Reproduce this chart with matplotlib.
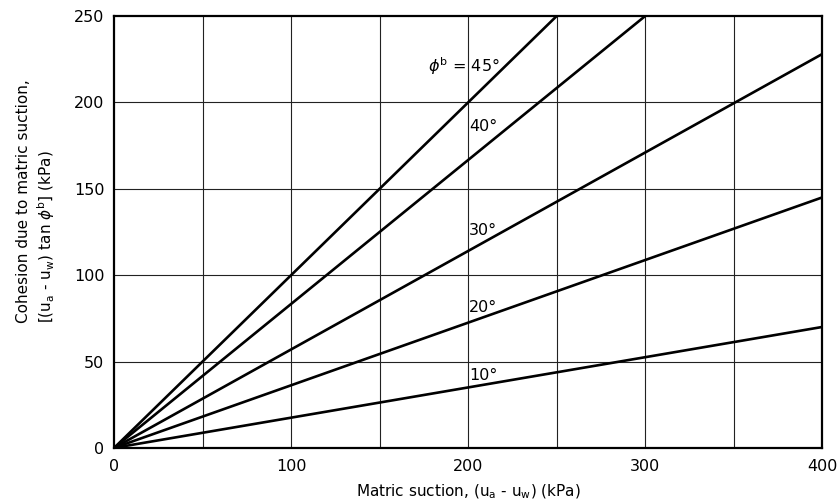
import matplotlib
matplotlib.use("Agg")
import matplotlib.pyplot as plt

plt.rcParams['font.family'] = ['DejaVu Sans']
plt.rcParams['mathtext.fontset'] = 'dejavusans'

# Data: each line runs from origin to an end point
angles = ["10°", "20°", "30°", "40°", "45°"]
end_x = [400, 400, 400, 300, 250]
end_y = [70, 145, 228, 250, 250]
label_text = ["10°", "20°", "30°", "40°"]
label_x = [200.5, 200.5, 200.5, 200.5]
label_y = [42, 81, 126, 186]
top_label = r"$\phi^{\mathrm{b}}$ = 45°"
top_label_x = 218
top_label_y = 221

x_ticks = [0, 100, 200, 300, 400]
y_ticks = [0, 50, 100, 150, 200, 250]
grid_x = [50, 100, 150, 200, 250, 300, 350]
grid_y = [50, 100, 150, 200]

fig = plt.figure(figsize=(8.39, 5.01), dpi=100)
ax = fig.add_axes([0.136, 0.106, 0.844, 0.862])
ax.set_xlim(0, 400)
ax.set_ylim(0, 250)

for gx in grid_x:
    ax.axvline(gx, color='#222222', lw=0.8, zorder=1)
for gy in grid_y:
    ax.axhline(gy, color='#222222', lw=0.8, zorder=1)

for ex, ey in zip(end_x, end_y):
    ax.plot([0, ex], [0, ey], color='black', lw=1.9, zorder=3, solid_capstyle='butt')

for t, lx, ly in zip(label_text, label_x, label_y):
    ax.text(lx, ly, t, fontsize=11.5, ha='left', va='center', zorder=4)
ax.text(top_label_x, top_label_y, top_label, fontsize=11.5, ha='right', va='center', zorder=4)

ax.set_xticks(x_ticks)
ax.set_yticks(y_ticks)
ax.tick_params(axis='x', length=0, labelsize=11.5, pad=8)
ax.tick_params(axis='y', length=0, labelsize=11.5, pad=7)
for s in ax.spines.values():
    s.set_linewidth(1.6)

ax.set_xlabel(r"Matric suction, (u$_\mathrm{a}$ - u$_\mathrm{w}$) (kPa)", fontsize=11, labelpad=6)
fig.text(0.043, 1 - 323 / 501,
         "Cohesion due to matric suction,\n" + r"[(u$_\mathrm{a}$ - u$_\mathrm{w}$) tan $\phi^\mathrm{b}$] (kPa)",
         fontsize=11, rotation=90, ha='center', va='bottom', multialignment='left',
         linespacing=1.25)

fig.savefig("out.png", dpi=100)
